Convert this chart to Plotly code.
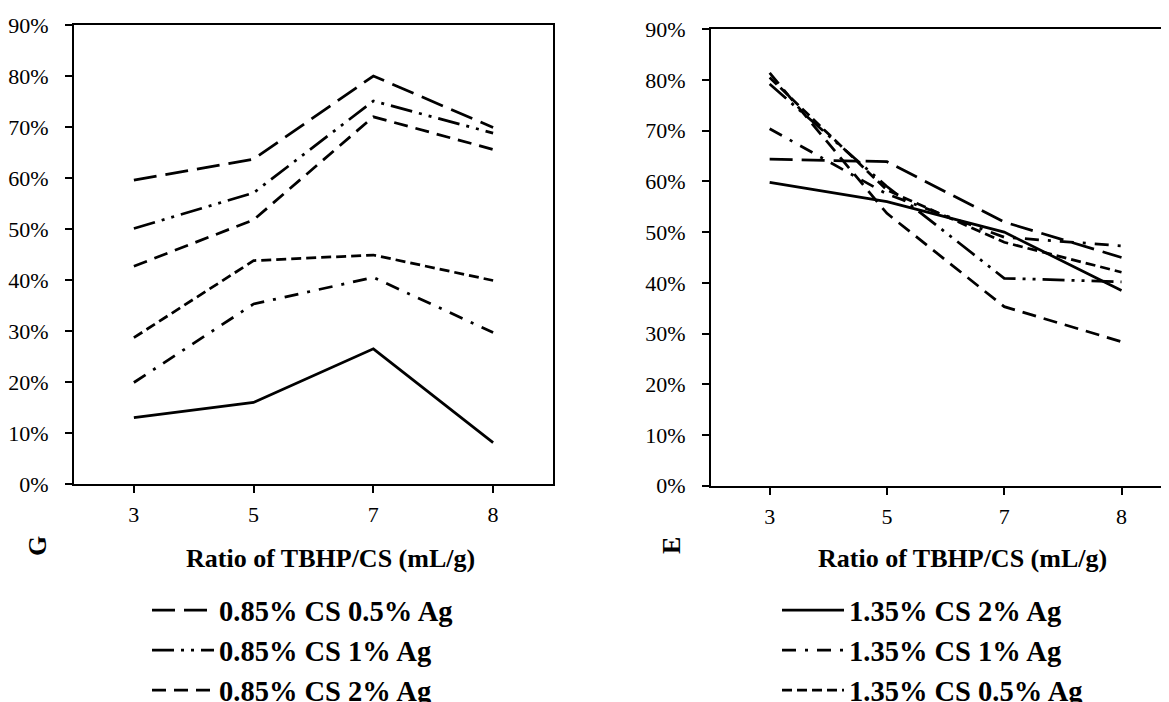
import plotly.graph_objects as go

ratios = ["3", "5", "7", "8"]
y_ticks = [0, 10, 20, 30, 40, 50, 60, 70, 80, 90]
y_tick_labels = ["0%", "10%", "20%", "30%", "40%", "50%", "60%", "70%", "80%", "90%"]

names = ["0.85% CS 0.5% Ag", "0.85% CS 1% Ag", "0.85% CS 2% Ag",
         "1.35% CS 0.5% Ag", "1.35% CS 1% Ag", "1.35% CS 2% Ag"]

# Left panel (G)
g_085_05 = [59.6, 63.7, 80.0, 69.9]
g_085_1 = [50.1, 57.1, 75.1, 68.8]
g_085_2 = [42.7, 51.8, 72.0, 65.6]
g_135_05 = [28.7, 43.8, 44.9, 39.9]
g_135_1 = [19.9, 35.3, 40.5, 29.7]
g_135_2 = [13.0, 16.0, 26.5, 8.1]

# Right panel (E)
e_085_05 = [64.4, 63.9, 52.0, 45.0]
e_085_1 = [79.2, 59.0, 40.9, 40.2]
e_085_2 = [81.4, 53.7, 35.3, 28.4]
e_135_05 = [80.5, 58.3, 48.0, 42.1]
e_135_1 = [70.4, 57.5, 49.0, 47.3]
e_135_2 = [59.8, 56.0, 50.0, 38.5]

dashes = {
    "0.85% CS 0.5% Ag": "23px,9px",
    "0.85% CS 1% Ag": "22px,7px,3px,7px,3px,7px",
    "0.85% CS 2% Ag": "14px,8px",
    "1.35% CS 0.5% Ag": "10px,5px",
    "1.35% CS 1% Ag": "14px,9px,3px,9px",
    "1.35% CS 2% Ag": "solid",
}

G = [g_085_05, g_085_1, g_085_2, g_135_05, g_135_1, g_135_2]
E = [e_085_05, e_085_1, e_085_2, e_135_05, e_135_1, e_135_2]

FONT = "Liberation Serif, Times New Roman, serif"
LW = 2.75

fig = go.Figure()

for nm, vals in zip(names, G):
    fig.add_trace(go.Scatter(
        x=ratios, y=vals, mode="lines", name=nm,
        line=dict(color="black", width=LW, dash=dashes[nm]),
        xaxis="x", yaxis="y", legend="legend",
        showlegend=nm.startswith("0.85"),
    ))

right_order = [5, 4, 3, 0, 1, 2]
for i in right_order:
    nm = names[i]
    fig.add_trace(go.Scatter(
        x=ratios, y=E[i], mode="lines", name=nm,
        line=dict(color="black", width=LW, dash=dashes[nm]),
        xaxis="x2", yaxis="y2", legend="legend2",
        showlegend=nm.startswith("1.35"),
    ))

W, H = 1169, 702
OFF = 8  # page body offset


def px(xp):
    return (xp - OFF) / W


def py(yp):
    return 1 - (yp - OFF) / H


axis_common = dict(
    showgrid=False, zeroline=False, showline=True, linecolor="black",
    linewidth=2, ticks="outside", ticklen=7, tickwidth=1.5, tickcolor="black",
    automargin=False,
    tickfont=dict(family=FONT, size=22, color="black"),
)

legend_font = dict(family=FONT, size=28.5, color="black", weight="bold")

fig.update_layout(
    width=W, height=H,
    margin=dict(l=0, r=0, t=0, b=0, autoexpand=False),
    paper_bgcolor="white", plot_bgcolor="white",
    font=dict(family=FONT, color="black"),
    xaxis=dict(domain=[px(74), px(553)], type="category", range=[-0.5, 3.5],
               anchor="y", mirror=True, ticklabelstandoff=3, **axis_common),
    yaxis=dict(domain=[py(484), py(25)], range=[0, 90], tickvals=y_ticks,
               ticktext=y_tick_labels, anchor="x", mirror=True,
               ticklabelstandoff=12, **axis_common),
    xaxis2=dict(domain=[px(711), 1.0], type="category", range=[-0.5, 3.473],
                anchor="y2", mirror=True, ticklabelstandoff=3, **axis_common),
    yaxis2=dict(domain=[py(485.7), py(29.3)], range=[0, 90], tickvals=y_ticks,
                ticktext=y_tick_labels, anchor="x2", mirror=False,
                ticklabelstandoff=12, **axis_common),
    legend=dict(x=px(147), y=py(585), xanchor="left", yanchor="top",
                bgcolor="rgba(0,0,0,0)", itemwidth=62, tracegroupgap=0,
                font=legend_font),
    legend2=dict(x=px(777), y=py(585), xanchor="left", yanchor="top",
                 bgcolor="rgba(0,0,0,0)", itemwidth=62, tracegroupgap=0,
                 font=legend_font),
)

title_font = dict(family=FONT, size=26, color="black", weight="bold")
fig.add_annotation(text="Ratio of TBHP/CS (mL/g)", x=px(330), y=py(558),
                   xref="paper", yref="paper", showarrow=False,
                   xanchor="center", yanchor="middle", font=title_font)
fig.add_annotation(text="Ratio of TBHP/CS (mL/g)", x=px(962), y=py(558),
                   xref="paper", yref="paper", showarrow=False,
                   xanchor="center", yanchor="middle", font=title_font)
fig.add_annotation(text="G", x=px(37), y=py(546), xref="paper", yref="paper",
                   showarrow=False, textangle=-90, xanchor="center",
                   yanchor="middle", font=title_font)
fig.add_annotation(text="E", x=px(671), y=py(546), xref="paper", yref="paper",
                   showarrow=False, textangle=-90, xanchor="center",
                   yanchor="middle", font=title_font)

fig.write_html("out.html")
